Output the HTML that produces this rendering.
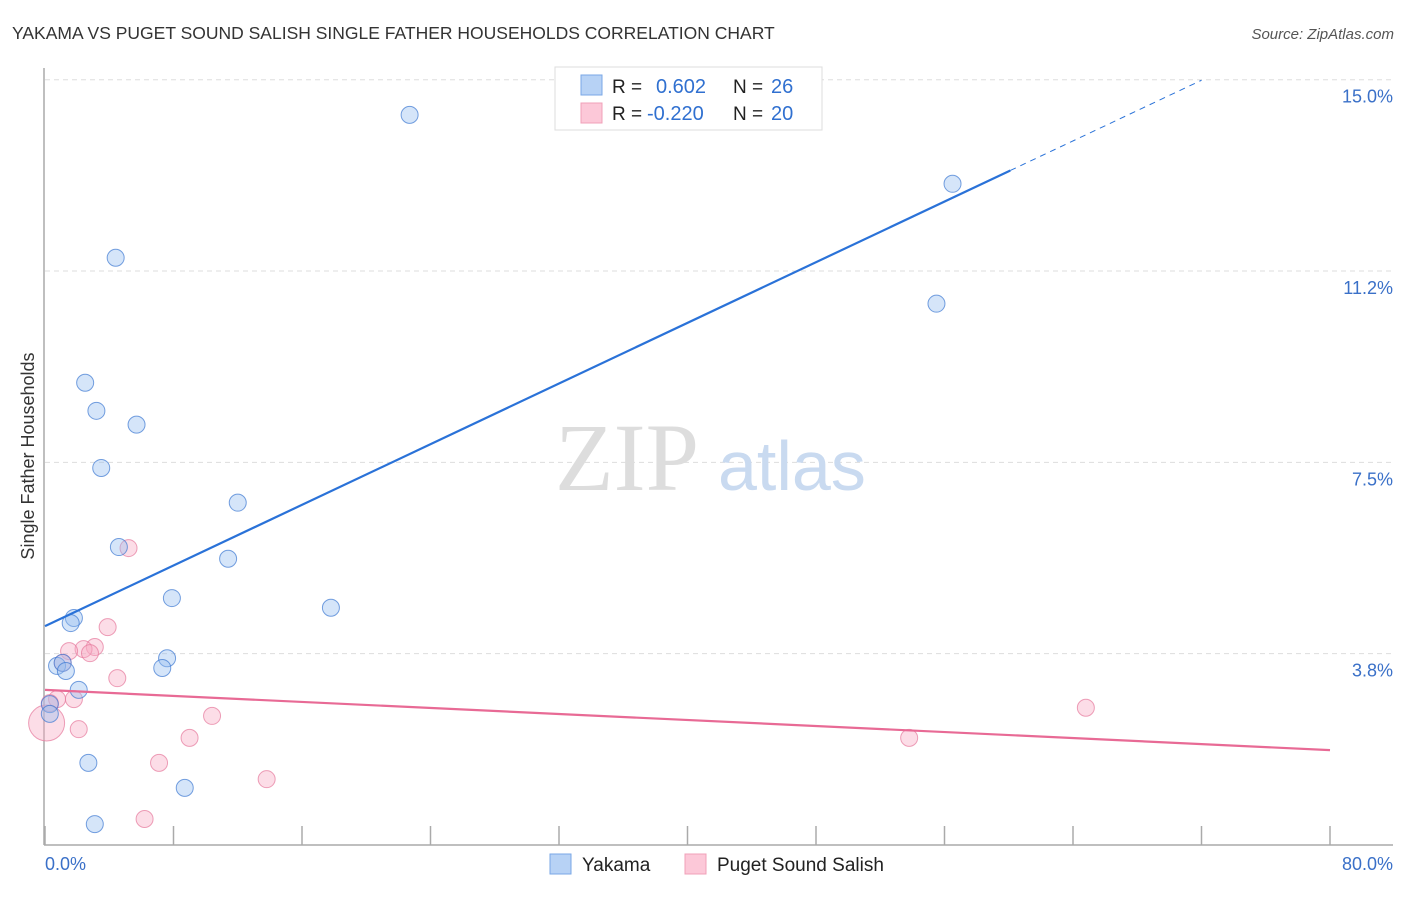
<!DOCTYPE html>
<html><head><meta charset="utf-8"><style>
body{margin:0;background:#fff;font-family:"Liberation Sans",sans-serif;}
</style></head><body>
<svg width="1406" height="892" viewBox="0 0 1406 892" xmlns="http://www.w3.org/2000/svg">
<text x="12" y="39" font-size="17.5" fill="#333">YAKAMA VS PUGET SOUND SALISH SINGLE FATHER HOUSEHOLDS CORRELATION CHART</text>
<text x="1394" y="39" font-size="15" fill="#555" font-style="italic" text-anchor="end">Source: ZipAtlas.com</text>
<g id="grid"></g>
<text x="555" y="490" font-size="96" fill="#ddd" font-family="Liberation Serif,serif">ZIP</text>
<text x="718" y="490" font-size="70" fill="#c9daf0">atlas</text>
<g id="axes"></g>
<g id="marks"></g>
<text x="34" y="456" font-size="18" fill="#333" text-anchor="middle" transform="rotate(-90 34 456)">Single Father Households</text>
<g>
<rect x="555" y="67" width="267" height="63" fill="#fff" stroke="#ddd"/>
<rect x="581" y="75" width="21" height="20" fill="#b7d2f5" stroke="#7aa7e6"/>
<rect x="581" y="103" width="21" height="20" fill="#fcc8d8" stroke="#f0a0b8"/>
<text x="612" y="93" font-size="19" fill="#222">R = </text><text x="656" y="93" font-size="20" fill="#3070d0">0.602</text>
<text x="733" y="93" font-size="19" fill="#222">N = </text><text x="771" y="93" font-size="20" fill="#3070d0">26</text>
<text x="612" y="120" font-size="19" fill="#222">R = </text><text x="647" y="120" font-size="20" fill="#3070d0">-0.220</text>
<text x="733" y="120" font-size="19" fill="#222">N = </text><text x="771" y="120" font-size="20" fill="#3070d0">20</text>
</g>
<g>
<rect x="550" y="854" width="21" height="20" fill="#b7d2f5" stroke="#7aa7e6"/>
<text x="582" y="871" font-size="19" fill="#222">Yakama</text>
<rect x="685" y="854" width="21" height="20" fill="#fcc8d8" stroke="#f0a0b8"/>
<text x="717" y="871" font-size="19" fill="#222">Puget Sound Salish</text>
</g>
</svg>
<script>
const yTicks=[3.75,7.5,11.25,15];
const yTickLabels=["3.8%","7.5%","11.2%","15.0%"];
const xTicks=[0,8,16,24,32,40,48,56,64,72,80];
const blueX=[22.7,56.5,4.4,55.5,2.5,3.2,5.7,3.5,12.0,4.6,11.4,7.9,17.8,1.8,1.6,7.6,7.3,0.75,1.1,1.3,2.1,0.3,0.3,2.7,8.7,3.1];
const blueY=[14.31,12.96,11.51,10.61,9.06,8.51,8.24,7.39,6.71,5.84,5.61,4.84,4.65,4.45,4.35,3.66,3.47,3.51,3.57,3.41,3.04,2.76,2.57,1.61,1.12,0.41];
const pinkX=[5.2,3.9,3.1,2.4,2.8,1.5,1.1,4.5,0.75,1.8,2.1,10.4,9.0,7.1,13.8,6.2,64.8,53.8,0.1,0.3];
const pinkY=[5.82,4.27,3.88,3.84,3.76,3.80,3.57,3.27,2.86,2.86,2.27,2.53,2.10,1.61,1.29,0.51,2.69,2.10,2.39,2.78];
const pinkR=[8.5,8.5,8.5,8.5,8.5,8.5,8.5,8.5,8.5,8.5,8.5,8.5,8.5,8.5,8.5,8.5,8.5,8.5,18,8.5];
const blueLine=[4.29,0.1486];
const pinkLine=[3.04,-0.01475];
const NS="http://www.w3.org/2000/svg";
const X=v=>45+v*(1285/80), Y=v=>845-v*51.02;
function mk(tag,attrs,parent){const e=document.createElementNS(NS,tag);for(const k in attrs)e.setAttribute(k,attrs[k]);document.getElementById(parent).appendChild(e);return e;}
yTicks.forEach((t,i)=>{
 const g=mk('line',{x1:45,x2:1393,y1:Y(t),y2:Y(t),stroke:'#ddd','stroke-dasharray':'5,4'},'grid');
 
 
 const l=mk('text',{x:1393,y:Y(t)+23,'font-size':18,fill:'#3a70c8','text-anchor':'end'},'grid');
 l.textContent=yTickLabels[i];
 
 
});
const la=mk('line',{x1:44,x2:44,y1:68,y2:845,stroke:'#aaa','stroke-width':1.5},'axes');


const lb=mk('line',{x1:44,x2:1393,y1:845,y2:845,stroke:'#aaa','stroke-width':1.5},'axes');


xTicks.forEach(t=>{
 const k=mk('line',{x1:X(t),x2:X(t),y1:826,y2:845,stroke:'#aaa','stroke-width':1.5},'axes');
 
 
});
const x0=mk('text',{x:45,y:870,'font-size':18,fill:'#3a70c8'},'axes');x0.textContent='0.0%';


const x1=mk('text',{x:1393,y:870,'font-size':18,fill:'#3a70c8','text-anchor':'end'},'axes');x1.textContent='80.0%';


pinkX.forEach((v,i)=>{
 const c=mk('circle',{cx:X(v),cy:Y(pinkY[i]),r:pinkR[i],fill:'rgba(248,170,195,0.4)',stroke:'rgba(230,120,155,0.7)','stroke-width':1},'marks');
 
 
});
blueX.forEach((v,i)=>{
 const c=mk('circle',{cx:X(v),cy:Y(blueY[i]),r:8.5,fill:'rgba(150,190,240,0.4)',stroke:'rgba(60,120,210,0.7)','stroke-width':1},'marks');
 
 
});
const bl=mk('line',{x1:X(0),y1:Y(blueLine[0]),x2:X(60.1),y2:Y(blueLine[0]+blueLine[1]*60.1),stroke:'#2a72d8','stroke-width':2.2},'marks');


const bd=mk('line',{x1:X(60.1),y1:Y(blueLine[0]+blueLine[1]*60.1),x2:X(72),y2:Y(blueLine[0]+blueLine[1]*72),stroke:'#2a72d8','stroke-width':1,'stroke-dasharray':'6,5'},'marks');


const pl=mk('line',{x1:X(0),y1:Y(pinkLine[0]),x2:X(80),y2:Y(pinkLine[0]+pinkLine[1]*80),stroke:'#e86a95','stroke-width':2.2},'marks');


</script>
</body></html>
